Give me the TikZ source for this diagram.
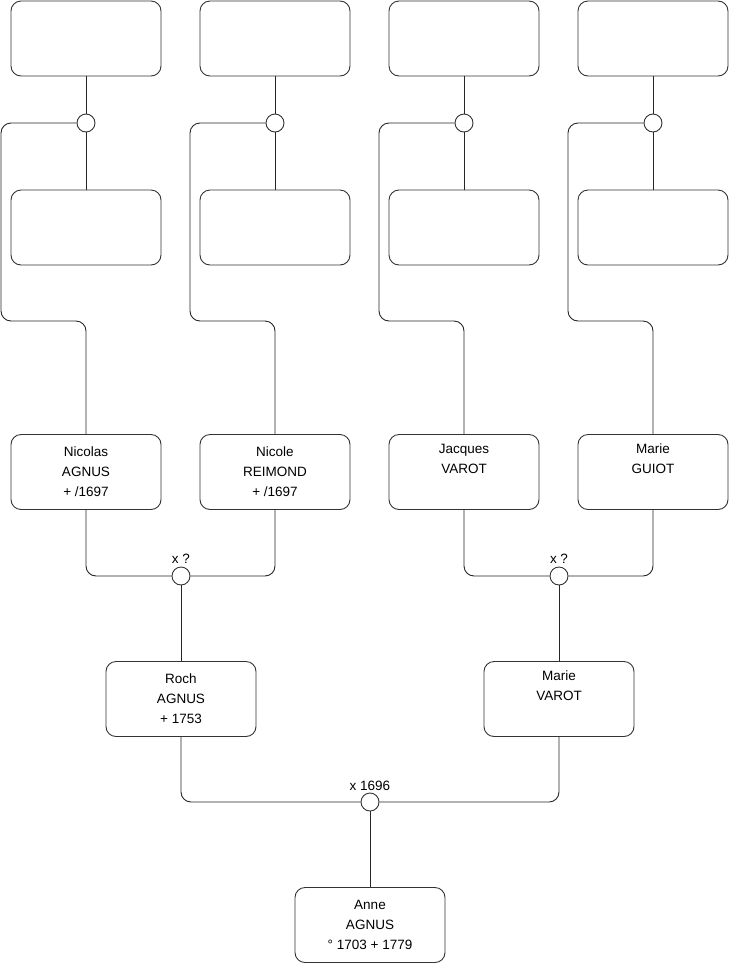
\documentclass[tikz,border=0pt]{standalone}
\usepackage{fontspec}
\setmainfont{Liberation Sans}
\begin{document}
\begin{tikzpicture}[x=1pt,y=-1pt,
  person/.style={draw=black!80, line width=0.9pt, rounded corners=10pt, minimum width=150pt, minimum height=75pt, inner sep=0pt, align=center, font=\fontsize{13.5}{20}\selectfont},
  union/.style={draw=black!80, line width=0.9pt, circle, minimum size=18pt, inner sep=0pt, fill=white},
  link/.style={draw=black!85, line width=0.9pt, rounded corners=10pt},
  lbl/.style={font=\fontsize{13.5}{15}\selectfont, inner sep=0pt}]
\useasboundingbox (0,0) rectangle (740,975);
% top rows
\foreach \i/\x in {1/86,2/275,3/464,4/653}{
  \node[person] (t\i) at (\x,38.5) {};
  \node[person] (m\i) at (\x,227.5) {};
  \node[union] (c\i) at (\x,123) {};
  \coordinate (a\i) at (\x-85,123);
  \coordinate (b\i) at (\x-85,321);
}
% generation 3
\node[person] (n1) at (86,472) {Nicolas\\AGNUS\\+ /1697};
\node[person] (n2) at (275,472) {Nicole\\REIMOND\\+ /1697};
\node[person] (n3) at (464,472) {Jacques\\VAROT\\\strut};
\node[person] (n4) at (653,472) {Marie\\GUIOT\\\strut};
% unions gen 3
\node[union] (u1) at (181,576) {};
\node[union] (u2) at (559,576) {};
\node[lbl, anchor=south] (l1) at (181,564) {x ?};
\node[lbl, anchor=south] (l2) at (559,564) {x ?};
% generation 2
\node[person] (r1) at (181,699) {Roch\\AGNUS\\+ 1753};
\node[person] (r2) at (559,699) {Marie\\VAROT\\\strut};
\node[union] (u3) at (370,802) {};
\node[lbl, anchor=south] (l3) at (370,791) {x 1696};
% generation 1
\node[person] (an) at (370,925) {Anne\\AGNUS\\° 1703 + 1779};
% connectors
\foreach \i in {1,2,3,4}{
  \draw[link] (t\i.south) -- (c\i.north);
  \draw[link] (c\i.south) -- (m\i.north);
  \draw[link] (c\i.west) -- (a\i) -- (b\i) -| (n\i.north);
}
\draw[link] (n1.south) |- (u1.west);
\draw[link] (n2.south) |- (u1.east);
\draw[link] (n3.south) |- (u2.west);
\draw[link] (n4.south) |- (u2.east);
\draw[link] (u1.south) -- (r1.north);
\draw[link] (u2.south) -- (r2.north);
\draw[link] (r1.south) |- (u3.west);
\draw[link] (r2.south) |- (u3.east);
\draw[link] (u3.south) -- (an.north);
\end{tikzpicture}
\end{document}
